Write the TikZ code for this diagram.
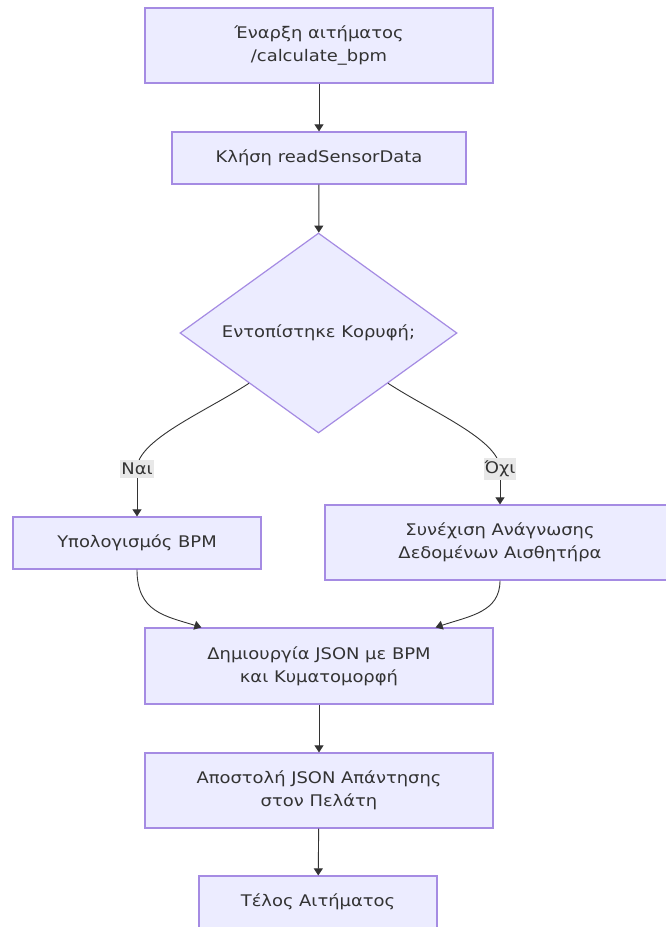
\documentclass[tikz,border=0pt]{standalone}
\usepackage{fontspec}
\setmainfont{DejaVu Sans}[FakeStretch=1.12]
\usetikzlibrary{shapes.geometric,arrows.meta}
\definecolor{boxfill}{HTML}{ECECFF}
\definecolor{boxline}{HTML}{A58BE3}
\definecolor{ink}{HTML}{333333}
\definecolor{lblfill}{HTML}{E8E8E8}
\begin{document}
\begin{tikzpicture}[x=1pt,y=-1pt,
		proc/.style={draw=boxline, fill=boxfill, line width=1.2pt, text=ink, align=center, inner sep=0pt, font=\fontsize{16}{23}\selectfont},
		decide/.style={proc, diamond, aspect=1.385},
		lbl/.style={fill=lblfill, text=ink, inner xsep=1pt, inner ysep=3pt, font=\fontsize{16}{18}\selectfont},
		link/.style={draw=ink, line width=0.9pt},
		flow/.style={link, -{Triangle[length=7pt,width=9pt]}}]
			\fill[white] (0,0) rectangle (665,927);
			\useasboundingbox (0,0) rectangle (665,927);
			% boxes
			\node[proc, minimum width=348, minimum height=75] (start) at (319,45.5) {Έναρξη αιτήματος\\ /calculate\_bpm};
			\node[proc, minimum width=294, minimum height=52] (read) at (319,158) {Κλήση readSensorData};
			\node[decide, minimum width=277, minimum height=200] (dec) at (318.5,333) {Εντοπίστηκε Κορυφή;};
			\node[proc, minimum width=248, minimum height=52] (calc) at (137,543) {Υπολογισμός BPM};
			\node[proc, minimum width=350, minimum height=75] (cont) at (500,542.5) {Συνέχιση Ανάγνωσης\\Δεδομένων Αισθητήρα};
			\node[proc, minimum width=348, minimum height=76] (create) at (319,666) {Δημιουργία JSON με BPM\\και Κυματομορφή};
			\node[proc, minimum width=348, minimum height=75] (send) at (319,790.5) {Αποστολή JSON Απάντησης\\στον Πελάτη};
			\node[proc, minimum width=238, minimum height=52] (end) at (318,902) {Τέλος Αιτήματος};
			% straight arrows
			\draw[flow] (start) -- (read);
			\draw[flow] (read) -- (dec);
			\draw[flow] (create) -- (send);
			\draw[flow] (send) -- (end);
			% branches
			\coordinate (yespt) at (137,469);
			\coordinate (nopt) at (500,469);
			\draw[link] (dec.south west) .. controls (205,412) and (137,440) .. (yespt);
			\draw[link] (dec.south east) .. controls (432,412) and (500,440) .. (nopt);
			\node[lbl] (yes) at (yespt) {Ναι};
			\node[lbl] (no) at (nopt) {Όχι};
			\draw[flow] (yes) -- (calc);
			\draw[flow] (no) -- (cont);
			% merge
			\draw[flow] (calc.south) .. controls (137,612) and (165,616) .. ([xshift=57pt]create.north west);
			\draw[flow] (cont.south) .. controls (500,612) and (470,616) .. ([xshift=-58pt]create.north east);
		\end{tikzpicture}
\end{document}
